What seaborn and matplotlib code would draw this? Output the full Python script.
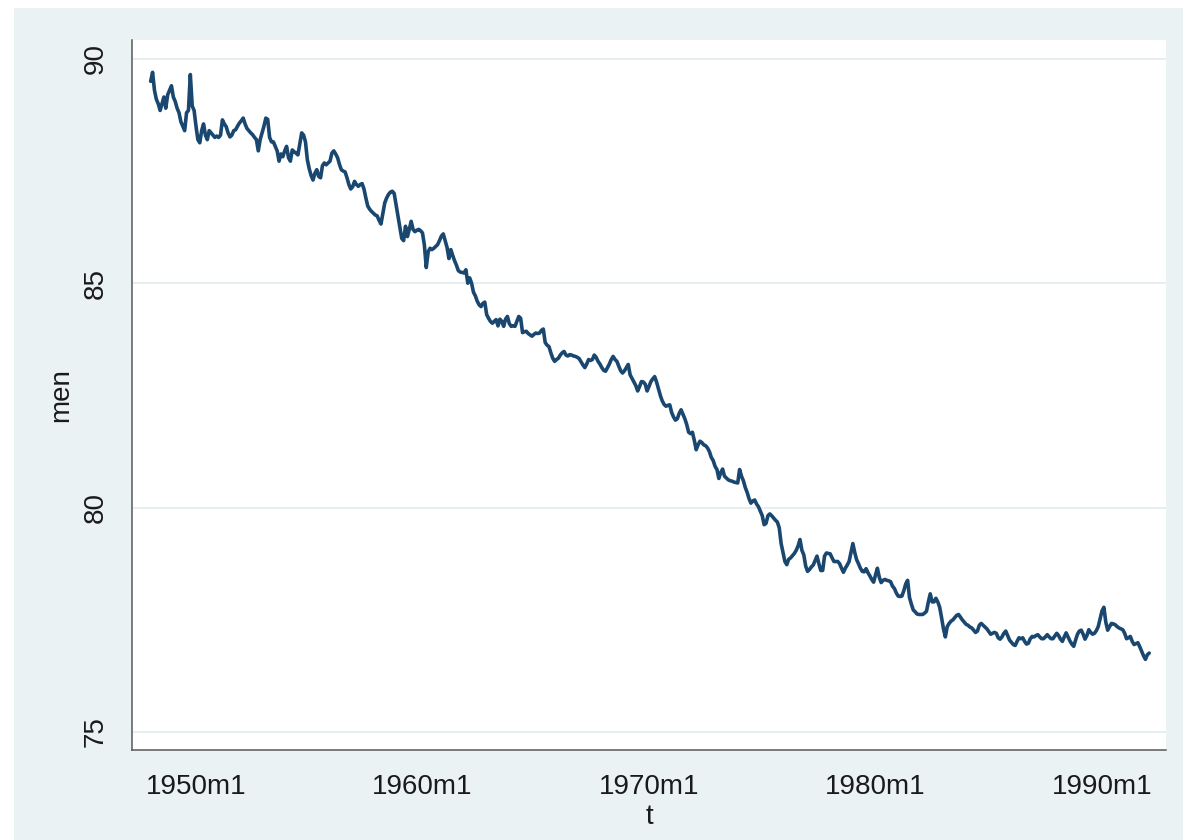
import numpy as np
import pandas as pd
import matplotlib
matplotlib.use("Agg")
import matplotlib.pyplot as plt
from matplotlib.patches import Rectangle
import seaborn as sns

# monthly series, first observation 1948m1 (Stata %tm: months since 1960m1)
start_t = -144
men = [
    89.5, 89.7, 89.3, 89.1, 89.0, 88.85, 89.0, 89.15, 88.9, 89.2, 89.3, 89.4,
    89.15, 89.05, 88.9, 88.8, 88.6, 88.5, 88.4, 88.8, 88.85, 89.65, 88.95, 88.85,
    88.5, 88.2, 88.13, 88.4, 88.55, 88.3, 88.2, 88.4, 88.35, 88.3, 88.25, 88.28,
    88.25, 88.3, 88.64, 88.55, 88.49, 88.35, 88.26, 88.3, 88.4, 88.42, 88.5, 88.57,
    88.62, 88.68, 88.55, 88.45, 88.4, 88.35, 88.31, 88.25, 88.2, 87.95, 88.2, 88.35,
    88.5, 88.68, 88.65, 88.25, 88.15, 88.15, 88.05, 87.95, 87.72, 87.88, 87.82, 87.95,
    88.05, 87.8, 87.72, 87.97, 87.93, 87.9, 87.86, 88.1, 88.35, 88.3, 88.15, 87.75,
    87.55, 87.4, 87.3, 87.45, 87.53, 87.38, 87.35, 87.62, 87.68, 87.64, 87.68, 87.72,
    87.9, 87.95, 87.88, 87.8, 87.65, 87.53, 87.5, 87.48, 87.35, 87.2, 87.1, 87.15,
    87.27, 87.2, 87.16, 87.2, 87.22, 87.1, 86.9, 86.72, 86.65, 86.6, 86.56, 86.52,
    86.5, 86.4, 86.32, 86.55, 86.79, 86.9, 86.98, 87.03, 87.05, 87.0, 86.75, 86.49,
    86.25, 86.0, 85.95, 86.27, 86.04, 86.2, 86.38, 86.2, 86.15, 86.18, 86.2, 86.17,
    86.12, 85.85, 85.35, 85.7, 85.78, 85.75, 85.78, 85.82, 85.86, 85.95, 86.05, 86.1,
    85.95, 85.8, 85.55, 85.75, 85.62, 85.5, 85.4, 85.28, 85.25, 85.24, 85.23, 85.3,
    85.0, 85.12, 85.0, 84.8, 84.72, 84.6, 84.52, 84.48, 84.55, 84.58, 84.3, 84.22,
    84.15, 84.11, 84.15, 84.19, 84.05, 84.2, 84.15, 84.04, 84.2, 84.26, 84.1, 84.04,
    84.05, 84.04, 84.15, 84.26, 84.22, 83.9, 83.92, 83.93, 83.88, 83.85, 83.82, 83.86,
    83.89, 83.88, 83.89, 83.95, 83.98, 83.68, 83.62, 83.59, 83.45, 83.33, 83.26, 83.3,
    83.33, 83.4, 83.45, 83.48, 83.4, 83.38, 83.41, 83.4, 83.38, 83.37, 83.35, 83.32,
    83.25, 83.18, 83.12, 83.2, 83.3, 83.28, 83.3, 83.4, 83.35, 83.26, 83.2, 83.12,
    83.06, 83.04, 83.12, 83.2, 83.3, 83.37, 83.3, 83.26, 83.15, 83.05, 83.0, 83.05,
    83.12, 83.19, 82.96, 82.88, 82.8, 82.72, 82.6, 82.7, 82.81, 82.8, 82.75, 82.6,
    82.7, 82.81, 82.87, 82.92, 82.8, 82.65, 82.5, 82.38, 82.3, 82.26, 82.28, 82.29,
    82.12, 82.02, 81.95, 81.98, 82.1, 82.18, 82.08, 81.98, 81.85, 81.68, 81.65, 81.68,
    81.5, 81.29, 81.4, 81.48, 81.45, 81.4, 81.38, 81.33, 81.25, 81.12, 81.05, 80.92,
    80.85, 80.65, 80.78, 80.86, 80.7, 80.66, 80.62, 80.6, 80.59, 80.57, 80.56, 80.55,
    80.85, 80.7, 80.6, 80.45, 80.34, 80.2, 80.1, 80.15, 80.17, 80.08, 80.02, 79.92,
    79.82, 79.62, 79.65, 79.82, 79.86, 79.82, 79.77, 79.72, 79.68, 79.55, 79.2, 79.0,
    78.8, 78.73, 78.85, 78.88, 78.93, 78.98, 79.05, 79.15, 79.29, 79.05, 78.95, 78.7,
    78.58, 78.62, 78.68, 78.72, 78.82, 78.92, 78.75, 78.6, 78.6, 78.92, 78.99, 78.98,
    78.97, 78.88, 78.8, 78.8, 78.8, 78.75, 78.65, 78.56, 78.65, 78.72, 78.8, 79.0,
    79.2, 79.0, 78.84, 78.75, 78.65, 78.58, 78.57, 78.64, 78.55, 78.48, 78.4, 78.34,
    78.5, 78.65, 78.45, 78.33, 78.38, 78.4, 78.38, 78.37, 78.35, 78.25, 78.2, 78.1,
    78.03, 78.02, 78.03, 78.15, 78.3, 78.38, 78.0, 77.85, 77.72, 77.68, 77.63, 77.62,
    77.62, 77.62, 77.65, 77.69, 77.9, 78.08, 77.9, 77.9, 77.98, 77.9, 77.78, 77.55,
    77.3, 77.12, 77.35, 77.42, 77.47, 77.5, 77.55, 77.6, 77.62, 77.56, 77.5, 77.45,
    77.4, 77.38, 77.34, 77.32, 77.27, 77.22, 77.25, 77.38, 77.42, 77.38, 77.34, 77.3,
    77.24, 77.18, 77.2, 77.22, 77.2, 77.1, 77.07, 77.12, 77.2, 77.25, 77.15, 77.05,
    77.0, 76.95, 76.93, 77.02, 77.1, 77.08, 77.1, 77.02, 76.96, 76.98, 77.08, 77.13,
    77.12, 77.15, 77.17, 77.12, 77.08, 77.08, 77.12, 77.17, 77.12, 77.08, 77.08, 77.14,
    77.2, 77.15, 77.07, 77.02, 77.12, 77.21, 77.12, 77.03, 76.96, 76.91, 77.05, 77.18,
    77.25, 77.27, 77.18, 77.07, 77.15, 77.28, 77.22, 77.18, 77.2, 77.26, 77.35, 77.52,
    77.7, 77.78, 77.45, 77.27, 77.35, 77.42, 77.41, 77.39, 77.35, 77.32, 77.3, 77.28,
    77.2, 77.08, 77.1, 77.13, 77.02, 76.95, 76.97, 76.99, 76.9, 76.8, 76.7, 76.62,
    76.72, 76.76,
]
t = np.arange(start_t, start_t + len(men))

x_ticks = [-120, 0, 120, 240, 360]
x_labels = ["1950m1", "1960m1", "1970m1", "1980m1", "1990m1"]
y_ticks = [75, 80, 85, 90]

df = pd.DataFrame({"t": t, "men": men})

sns.set_style("white")
plt.rcParams["font.family"] = ["Liberation Sans", "DejaVu Sans"]

W, H = 1183, 840
fig = plt.figure(figsize=(W / 100, H / 100), dpi=100, facecolor="white")
# Stata graph region, behind the plot region
fig.patches.append(Rectangle((14 / W, 0), 1 - 14 / W, 1 - 8 / H, transform=fig.transFigure,
                             facecolor="#EAF2F3", edgecolor="none", zorder=-10))

ax = fig.add_axes([132 / W, 90 / H, (1166 - 132) / W, 710 / H])
ax.set_facecolor("white")

sns.lineplot(data=df, x="t", y="men", ax=ax, color="#1A476F", linewidth=2.6)

ax.set_xlim(-153.9, 393.9)
ax.set_ylim(74.6, 90.42)
ax.set_xticks(x_ticks)
ax.set_xticklabels(x_labels)
ax.set_yticks(y_ticks)
ax.set_yticklabels([str(v) for v in y_ticks])

ax.grid(axis="y", color="#E6EEF0", linewidth=1.4)
ax.grid(axis="x", visible=False)
ax.set_axisbelow(True)

for side in ["top", "right"]:
    ax.spines[side].set_visible(False)
for side in ["left", "bottom"]:
    ax.spines[side].set_color("#595959")
    ax.spines[side].set_linewidth(1.1)

ax.tick_params(axis="both", direction="out", length=9, width=1.0, color="#595959",
               labelsize=20, labelcolor="#1a1a1a", pad=8)
ax.tick_params(axis="y", labelrotation=90)
plt.setp(ax.get_yticklabels(), va="center")

ax.set_xlabel("t", fontsize=20, color="#1a1a1a", labelpad=3)
ax.set_ylabel("men", fontsize=20, color="#1a1a1a", labelpad=6)

fig.savefig("out.png", dpi=100, facecolor=fig.get_facecolor())
